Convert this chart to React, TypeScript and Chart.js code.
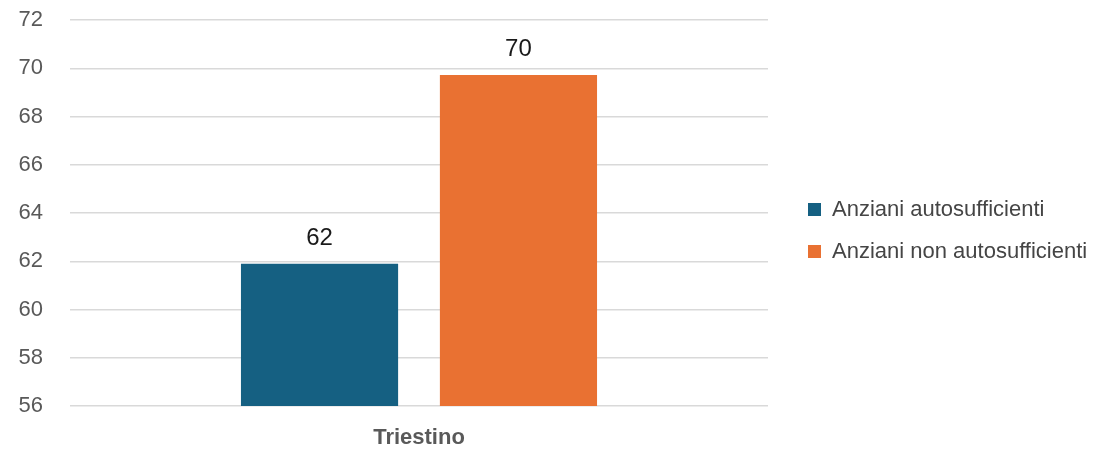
import React, { useEffect, useRef } from "react";
import { Chart, registerables } from "chart.js";

Chart.register(...registerables);

const categories = ["Triestino"];
const seriesNames = ["Anziani autosufficienti", "Anziani non autosufficienti"];
const autosufficienti = [61.9];
const nonAutosufficienti = [69.72];
const yTicks = [56, 58, 60, 62, 64, 66, 68, 70, 72];

const FONT = "'Liberation Sans', Arial, sans-serif";

const valueLabels = {
  id: "valueLabels",
  afterDatasetsDraw(chart: any) {
    const ctx = chart.ctx;
    ctx.save();
    ctx.font = `24px ${FONT}`;
    ctx.fillStyle = "#1a1a1a";
    ctx.textAlign = "center";
    ctx.textBaseline = "alphabetic";
    chart.data.datasets.forEach((ds: any, i: number) => {
      const meta = chart.getDatasetMeta(i);
      meta.data.forEach((bar: any, j: number) => {
        const v = ds.data[j];
        ctx.fillText(String(Math.round(v)), bar.x, bar.y - 19);
      });
    });
    ctx.restore();
  },
};

const LEGEND_WIDTH = 331;
const LEGEND_SHIFT_X = 20;
const LEGEND_SHIFT_Y = -4;

const legendPlacement = {
  id: "legendPlacement",
  beforeUpdate(chart: any) {
    const lg = chart.legend;
    if (!lg || lg.__patched) return;
    lg.__patched = true;
    const fit = lg.fit.bind(lg);
    lg.fit = function () {
      fit();
      this.width = LEGEND_WIDTH;
    };
    const draw = lg.draw.bind(lg);
    lg.draw = function () {
      const l = this.left, r = this.right, t = this.top, b = this.bottom;
      this.left = l + LEGEND_SHIFT_X;
      this.right = r + LEGEND_SHIFT_X;
      this.top = t + LEGEND_SHIFT_Y;
      this.bottom = b + LEGEND_SHIFT_Y;
      draw();
      this.left = l; this.right = r; this.top = t; this.bottom = b;
    };
  },
};

export default function App() {
  const ref = useRef<HTMLCanvasElement | null>(null);
  useEffect(() => {
    document.body.style.margin = "0";
    const chart = new Chart(ref.current!, {
      type: "bar",
      data: {
        labels: categories,
        datasets: [
          {
            label: seriesNames[0],
            data: autosufficienti,
            backgroundColor: "#156082",
            categoryPercentage: 0.57,
            barPercentage: 0.79,
          },
          {
            label: seriesNames[1],
            data: nonAutosufficienti,
            backgroundColor: "#E97132",
            categoryPercentage: 0.57,
            barPercentage: 0.79,
          },
        ],
      },
      options: {
        animation: false,
        responsive: false,
        layout: { padding: { top: 20, right: 0, left: 0, bottom: 0 } },
        scales: {
          x: {
            grid: { display: false },
            border: { display: false },
            afterFit: (axis: any) => {
              axis.height = 43;
            },
            ticks: {
              color: "#595959",
              font: { family: FONT, size: 22, weight: "bold" },
              padding: 11,
            },
          },
          y: {
            min: yTicks[0],
            max: yTicks[yTicks.length - 1],
            afterBuildTicks: (axis: any) => {
              axis.ticks = yTicks.map((v) => ({ value: v }));
            },
            afterFit: (axis: any) => {
              axis.width = 70;
              axis.paddingTop = 0;
            },
            grid: { color: "#d9d9d9", lineWidth: 1.5, drawTicks: false },
            border: { display: false },
            ticks: {
              color: "#595959",
              font: { family: FONT, size: 22 },
              padding: 27,
            },
          },
        },
        plugins: {
          legend: {
            position: "right",
            align: "center",
            labels: {
              color: "#454545",
              font: { family: FONT, size: 22 },
              boxWidth: 13,
              boxHeight: 13,
              padding: 20,
            },
          },
          tooltip: { enabled: false },
        },
      },
      plugins: [valueLabels, legendPlacement],
    });
    return () => chart.destroy();
  }, []);
  return (
    <div style={{ position: "absolute", left: 0, top: 0, width: 1099, height: 449 }}>
      <canvas ref={ref} width={1099} height={449} />
    </div>
  );
}
